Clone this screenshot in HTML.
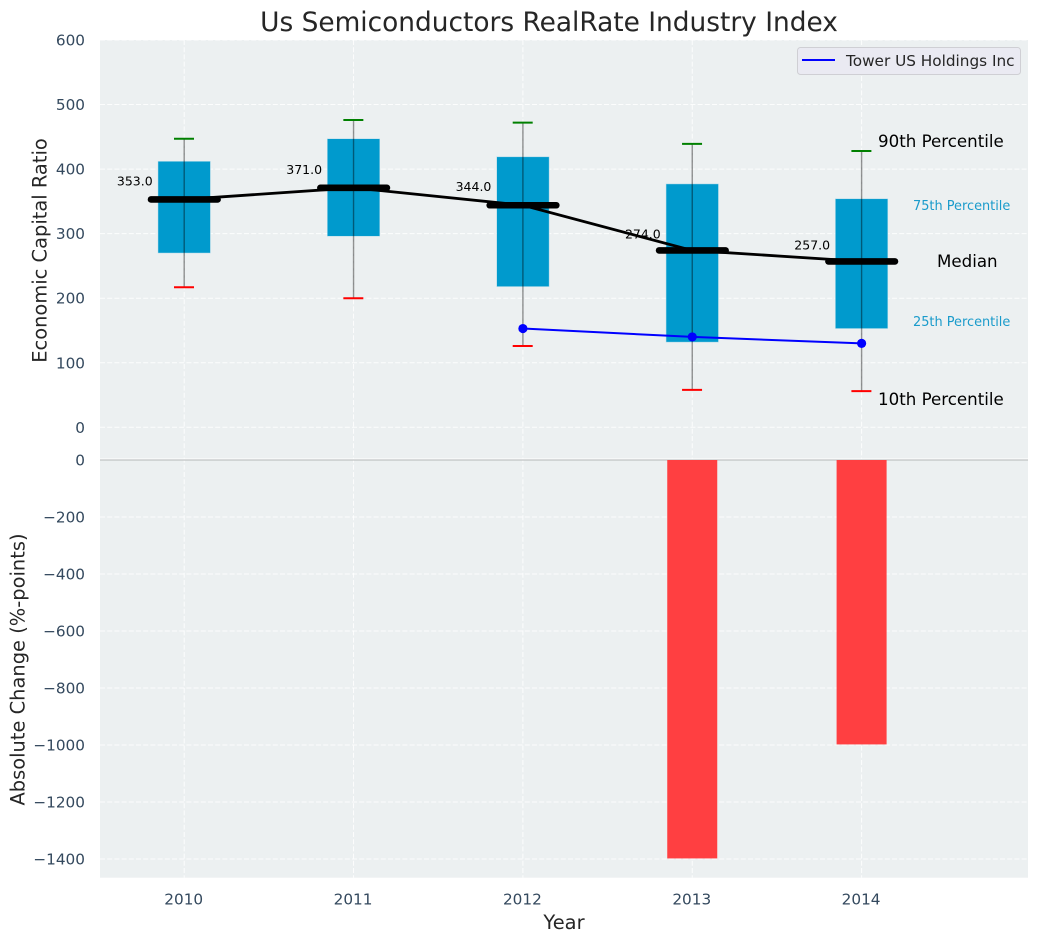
<!DOCTYPE html>
<html lang="en">
<head>
<meta charset="utf-8">
<title>Us Semiconductors RealRate Industry Index</title>
<style>
html,body{margin:0;padding:0;background:#fff;}
svg{display:block;font-family:"DejaVu Sans","Liberation Sans",sans-serif;}
</style>
</head>
<body>
<svg id="chart" xmlns="http://www.w3.org/2000/svg" width="1039" height="942" viewBox="0 0 1039 942">
  <rect x="100" y="40" width="928" height="837.7" fill="#ecf0f1"/>
  <g id="grid"></g>
  <g id="marks"></g>
  <g id="ticks"></g>
  <text x="549" y="31" text-anchor="middle" font-size="26.4" fill="#262626">Us Semiconductors RealRate Industry Index</text>
  <text transform="translate(46.5,250.5) rotate(-90)" text-anchor="middle" font-size="19.44" fill="#262626">Economic Capital Ratio</text>
  <text transform="translate(24.5,669.5) rotate(-90)" text-anchor="middle" font-size="19.44" fill="#262626">Absolute Change (%-points)</text>
  <text x="564" y="929" text-anchor="middle" font-size="19.44" fill="#262626">Year</text>
  <text x="878" y="147" font-size="16.67" fill="#000">90th Percentile</text>
  <text x="913" y="210" font-size="12.9" fill="#1a9bcb">75th Percentile</text>
  <text x="937" y="267" font-size="16.67" fill="#000">Median</text>
  <text x="913" y="326" font-size="12.9" fill="#1a9bcb">25th Percentile</text>
  <text x="878" y="405" font-size="16.67" fill="#000">10th Percentile</text>
  <g>
    <rect x="797.5" y="47.5" width="223" height="27" rx="3" fill="#eaeaf2" stroke="#cfcfd4" stroke-width="1"/>
    <line x1="802" y1="60" x2="835" y2="60" stroke="#0000ff" stroke-width="2"/>
    <text x="846" y="66" font-size="15.28" fill="#262626">Tower US Holdings Inc</text>
  </g>
</svg>
<script>
const years = [2010, 2011, 2012, 2013, 2014];
const p90 = [447, 476, 472, 439, 428];
const p75 = [412, 447, 419, 377, 354];
const median = [353, 371, 344, 274, 257];
const p25 = [270, 296, 218, 132, 153];
const p10 = [217, 200, 126, 58, 56];
const towerYears = [2012, 2013, 2014];
const towerValues = [153, 140, 130];
const changeYears = [2013, 2014];
const changeValues = [-1398, -998];
const topTicks = [0, 100, 200, 300, 400, 500, 600];
const bottomTicks = [0, -200, -400, -600, -800, -1000, -1200, -1400];

const NS = 'http://www.w3.org/2000/svg';
function xScale(year) { return 184.2 + (year - 2010) * 169.35; }
function yTop(v) { return 427.3 - v * 0.6455; }
function yBottom(v) { return 460 - v * 0.285; }

function make(parent, tag, props, text) {
  const el = document.createElementNS(NS, tag);
  for (const k in props) el.setAttribute(k, props[k]);
  if (text !== undefined) el.textContent = text;
  parent.appendChild(el);
  return el;
}
const grid = document.getElementById('grid');
const marks = document.getElementById('marks');
const ticks = document.getElementById('ticks');
const gridStyle = { stroke: '#ffffff', 'stroke-opacity': 0.85, 'stroke-width': 1, 'stroke-dasharray': '5 2.2' };
const tickFont = { 'font-size': 15.28, fill: '#34495e' };
function fmt(v) { return v < 0 ? '\u2212' + Math.abs(v) : String(v); }

topTicks.forEach(function (t) {
  const y = yTop(t);
  const line = make(grid, 'line', Object.assign({ x1: 100, x2: 1028, y1: y, y2: y }, gridStyle));
  
  
  const label = make(ticks, 'text', Object.assign({ x: 85, y: y + 5.5, 'text-anchor': 'end' }, tickFont), fmt(t));
  
  
});
bottomTicks.forEach(function (t) {
  const y = yBottom(t);
  const line = make(grid, 'line', Object.assign({ x1: 100, x2: 1028, y1: y, y2: y }, gridStyle));
  
  
  const label = make(ticks, 'text', Object.assign({ x: 85, y: y + 5.5, 'text-anchor': 'end' }, tickFont), fmt(t));
  
  
});
years.forEach(function (yr) {
  const x = xScale(yr);
  const line = make(grid, 'line', Object.assign({ x1: x, x2: x, y1: 40, y2: 877.7 }, gridStyle));
  
  
  const label = make(ticks, 'text', Object.assign({ x: x - 0.5, y: 904.5, 'text-anchor': 'middle' }, tickFont), String(yr));
  
  
});

const zeroWhite = make(marks, 'line', { x1: 100, x2: 1028, y1: yBottom(0) - 1, y2: yBottom(0) - 1, stroke: '#ffffff', 'stroke-width': 1 });


const zeroLine = make(marks, 'line', { x1: 100, x2: 1028, y1: yBottom(0), y2: yBottom(0), stroke: '#bfc2c3', 'stroke-width': 1.3 });



years.forEach(function (yr, i) {
  const x = xScale(yr);
  const box = make(marks, 'rect', { x: x - 26.2, y: yTop(p75[i]), width: 52.4, height: yTop(p25[i]) - yTop(p75[i]), fill: '#009acd', stroke: '#b5dcea', 'stroke-width': 0.5 });
  
  
  const whisker = make(marks, 'line', { x1: x, x2: x, y1: yTop(p90[i]), y2: yTop(p10[i]), stroke: '#000000', 'stroke-opacity': 0.42, 'stroke-width': 1.4 });
  
  
  const capHi = make(marks, 'line', { x1: x - 10.2, x2: x + 9.8, y1: yTop(p90[i]), y2: yTop(p90[i]), stroke: '#008000', 'stroke-width': 2 });
  
  
  const capLo = make(marks, 'line', { x1: x - 10.2, x2: x + 9.8, y1: yTop(p10[i]), y2: yTop(p10[i]), stroke: '#ff0000', 'stroke-width': 2 });
  
  
});

const medianPath = make(marks, 'polyline', { points: years.map(function (yr, i) { return xScale(yr) + ',' + yTop(median[i]); }).join(' '), fill: 'none', stroke: '#000000', 'stroke-width': 2.8 });



years.forEach(function (yr, i) {
  const x = xScale(yr);
  const y = yTop(median[i]);
  const bar = make(marks, 'line', { x1: x - 33.2, x2: x + 33.4, y1: y, y2: y, stroke: '#000000', 'stroke-width': 6.6, 'stroke-linecap': 'round' });
  
  
  const lift = median[i] >= 300 ? 14 : 11.8;
  const label = make(marks, 'text', { x: x - 31.5, y: y - lift, 'text-anchor': 'end', 'font-size': 12.5, fill: '#000000' }, median[i].toFixed(1));
  
  
});

const towerLine = make(marks, 'polyline', { points: towerYears.map(function (yr, i) { return xScale(yr) + ',' + yTop(towerValues[i]); }).join(' '), fill: 'none', stroke: '#0000ff', 'stroke-width': 2 });


towerYears.forEach(function (yr, i) {
  const dot = make(marks, 'circle', { cx: xScale(yr), cy: yTop(towerValues[i]), r: 4.6, fill: '#0000ff' });
  
  
});

changeYears.forEach(function (yr, i) {
  const x = xScale(yr);
  const bar = make(marks, 'rect', { x: x - 25, y: yBottom(0), width: 50, height: yBottom(changeValues[i]) - yBottom(0), fill: '#ff3f41' });
  
  
});
</script>
</body>
</html>
